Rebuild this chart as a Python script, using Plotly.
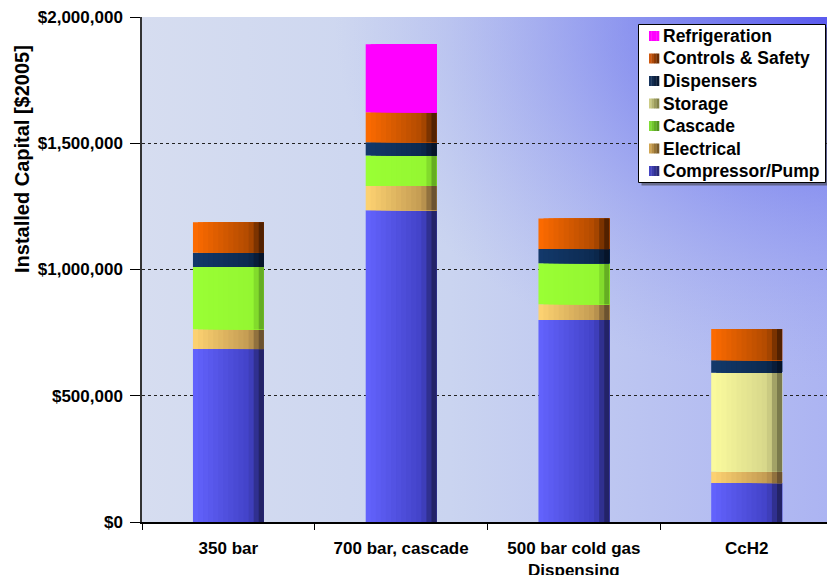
import base64
import plotly.graph_objects as go

# ---------------- data ----------------
categories = ["350 bar", "700 bar, cascade", "500 bar cold gas<br>Dispensing", "CcH2"]
compressor = [685000, 1235000, 800000, 154000]
electrical = [78000, 96000, 62000, 45000]
cascade = [247000, 120000, 163000, 0]
storage = [0, 0, 0, 392000]
dispensers = [56000, 53000, 56000, 50000]
controls = [121000, 119000, 121000, 123000]
refrigeration = [0, 269000, 0, 0]

series_names = ["Compressor/Pump", "Electrical", "Cascade", "Storage",
                "Dispensers", "Controls & Safety", "Refrigeration"]
series_values = [compressor, electrical, cascade, storage,
                 dispensers, controls, refrigeration]

# colour stops (left -> right) to imitate the shaded bars
series_colors = [
    [(0.0, "#6464ff"), (0.8, "#4242c6"), (1.0, "#1c1c52")],
    [(0.0, "#ffd472"), (0.8, "#c29a52"), (1.0, "#584228")],
    [(0.0, "#9aff34"), (0.85, "#94f632"), (1.0, "#56961e")],
    [(0.0, "#fcfc9e"), (0.8, "#d6d68a"), (1.0, "#66663e")],
    [(0.0, "#13396b"), (0.8, "#0c2a50"), (1.0, "#050f20")],
    [(0.0, "#ff6c00"), (0.8, "#b04a00"), (1.0, "#3e1800")],
    [(0.0, "#ff00ff"), (1.0, "#ff00ff")],
]
swatch_colors = [
    [(0.0, "#4a4ad0"), (1.0, "#24246a")],
    [(0.0, "#e0b25a"), (1.0, "#6a4e22")],
    [(0.0, "#88e83a"), (1.0, "#4a8a1a")],
    [(0.0, "#d8d890"), (1.0, "#76763e")],
    [(0.0, "#1a3a66"), (1.0, "#06142a")],
    [(0.0, "#e06010"), (1.0, "#5a2400")],
    [(0.0, "#ff00ff"), (1.0, "#ff00ff")],
]


def hex2rgb(h):
    h = h.lstrip("#")
    return tuple(int(h[i:i + 2], 16) for i in (0, 2, 4))


def interp(stops, t):
    for (t0, c0), (t1, c1) in zip(stops[:-1], stops[1:]):
        if t0 <= t <= t1:
            a = 0 if t1 == t0 else (t - t0) / (t1 - t0)
            r0, g0, b0 = hex2rgb(c0)
            r1, g1, b1 = hex2rgb(c1)
            return "rgb(%d,%d,%d)" % (round(r0 + (r1 - r0) * a),
                                      round(g0 + (g1 - g0) * a),
                                      round(b0 + (b1 - b0) * a))
    return stops[-1][1]


BAR_W = 0.41
N_STRIPS = 14

fig = go.Figure()

cum = [0] * len(categories)
for name, vals, stops in zip(series_names, series_values, series_colors):
    ys = [v if v else None for v in vals]
    bases = list(cum)
    for i in range(N_STRIPS):
        left = -BAR_W / 2 + i * BAR_W / N_STRIPS
        t = (i + 0.5) / N_STRIPS
        fig.add_trace(go.Bar(
            x=categories, y=ys, base=bases,
            width=BAR_W - i * BAR_W / N_STRIPS, offset=left,
            marker=dict(color=interp(stops, t), line=dict(width=0)),
            name=name, legendgroup=name, showlegend=False,
            hoverinfo="skip",
        ))
    cum = [c + v for c, v in zip(cum, vals)]

# ---------------- background gradient (svg) ----------------
svg = """<svg xmlns='http://www.w3.org/2000/svg' width='400' height='300' viewBox='0 0 400 300' preserveAspectRatio='none'>
<defs>
<linearGradient id='a' x1='0' y1='0' x2='1' y2='0'>
<stop offset='0' stop-color='#d6ddf0'/>
<stop offset='0.45' stop-color='#cad4f0'/>
<stop offset='1' stop-color='#acb4f2'/>
</linearGradient>
<radialGradient id='b' cx='1' cy='0' r='0.72' gradientUnits='objectBoundingBox'>
<stop offset='0' stop-color='#5a5aee' stop-opacity='1'/>
<stop offset='0.45' stop-color='#7078ee' stop-opacity='0.55'/>
<stop offset='1' stop-color='#9aa2f0' stop-opacity='0'/>
</radialGradient>
</defs>
<rect x='0' y='0' width='400' height='300' fill='url(#a)'/>
<rect x='0' y='0' width='400' height='300' fill='url(#b)'/>
</svg>"""
src = "data:image/svg+xml;base64," + base64.b64encode(svg.encode()).decode()

W, H = 827, 575
ML, MR, MT, MB = 142, 0, 17, 53
PW, PH = W - ML - MR, H - MT - MB
spacing = 172.75
x_hi = -0.5 + PW / spacing


def px_x(p):
    return (p - ML) / PW


def px_y(p):
    return (H - MB - p) / PH


font_family = "Liberation Sans, Arial, sans-serif"

# ---------------- hand-made legend ----------------
shapes = []
annotations = []
LX0, LY0, LX1, LY1 = 638.5, 24.5, 825.5, 182.5
shapes.append(dict(type="rect", xref="paper", yref="paper",
                   x0=px_x(LX0 + 3), x1=px_x(LX1 + 3), y0=px_y(LY0 + 3), y1=px_y(LY1 + 3),
                   fillcolor="rgba(60,60,60,0.55)", line=dict(width=0), layer="above"))
shapes.append(dict(type="rect", xref="paper", yref="paper",
                   x0=px_x(LX0), x1=px_x(LX1), y0=px_y(LY0), y1=px_y(LY1),
                   fillcolor="white", line=dict(color="black", width=1), layer="above"))
legend_order = list(range(len(series_names)))[::-1]
for k, idx in enumerate(legend_order):
    yc = 36 + k * 22.5
    n_sw = 4
    for j in range(n_sw):
        sx0 = 649 + j * 10 / n_sw
        shapes.append(dict(type="rect", xref="paper", yref="paper",
                           x0=px_x(sx0), x1=px_x(sx0 + 10 / n_sw + 0.3),
                           y0=px_y(yc - 5), y1=px_y(yc + 5),
                           fillcolor=interp(swatch_colors[idx], (j + 0.5) / n_sw),
                           line=dict(width=0), layer="above"))
    annotations.append(dict(text=series_names[idx], xref="paper", yref="paper",
                            x=px_x(661), y=px_y(yc), xanchor="left", yanchor="middle",
                            showarrow=False,
                            font=dict(size=17.5, weight="bold", family=font_family, color="black")))

annotations.append(dict(
    text="Installed Capital [$2005]", textangle=-90,
    xref="paper", yref="paper", x=px_x(22), y=px_y(159),
    xanchor="center", yanchor="middle", showarrow=False,
    font=dict(size=20, weight="bold", family=font_family, color="black"),
))

fig.update_layout(
    width=W, height=H,
    margin=dict(l=ML, r=MR, t=MT, b=MB, pad=0, autoexpand=False),
    barmode="overlay",
    paper_bgcolor="white",
    plot_bgcolor="rgba(0,0,0,0)",
    font=dict(family=font_family, color="black"),
    images=[dict(source=src, xref="paper", yref="paper", x=0, y=1,
                 sizex=1, sizey=1, sizing="stretch", layer="below",
                 xanchor="left", yanchor="top")],
    xaxis=dict(
        type="category", categoryorder="array", categoryarray=categories,
        range=[-0.5, x_hi], automargin=False,
        showline=True, linecolor="black", linewidth=1.5,
        ticks="outside", tickson="boundaries", ticklen=6, tickcolor="black",
        tickfont=dict(size=17, weight="bold", family=font_family),
        ticklabelstandoff=10,
        showgrid=False, zeroline=False,
    ),
    yaxis=dict(
        range=[0, 2000000], dtick=500000, tick0=0, automargin=False,
        tickformat="$,.0f",
        showline=True, linecolor="#333333", linewidth=1.5,
        ticks="outside", ticklen=10, tickcolor="black",
        tickfont=dict(size=17, weight="bold", family=font_family),
        ticklabelstandoff=4,
        showgrid=True, gridcolor="#222222", griddash="dot", gridwidth=1,
        zeroline=False,
    ),
    shapes=shapes,
    annotations=annotations,
    showlegend=False,
)

fig.write_html("out.html")
